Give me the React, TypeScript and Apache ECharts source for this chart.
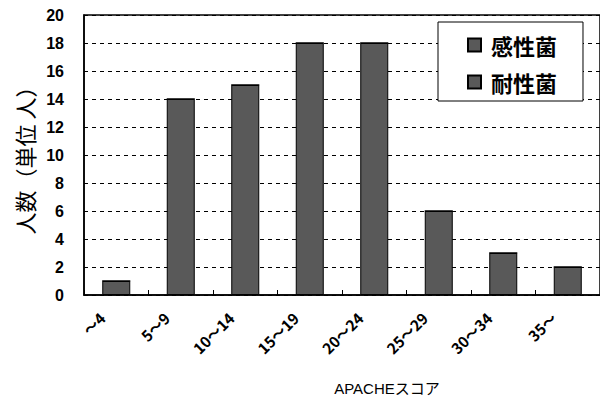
import React, { useEffect, useRef } from "react";
import * as echarts from "echarts";

// APACHE score bands
const categories = ["〜4", "5〜9", "10〜14", "15〜19", "20〜24", "25〜29", "30〜34", "35〜"];
// patient counts per band
const sensitiveCounts = [1, 14, 15, 18, 18, 6, 3, 2];
const resistantCounts = [0, 0, 0, 0, 0, 0, 0, 0];
const seriesNames = ["感性菌", "耐性菌"];

const BAR_FILL = "#595959";

export default function App() {
  const ref = useRef<HTMLDivElement>(null);

  useEffect(() => {
    if (!ref.current) return;
    const chart = echarts.init(ref.current, undefined, { renderer: "svg" });
    const barStyle = { color: BAR_FILL, borderColor: "#000", borderWidth: 1 };
    chart.setOption({
      animation: false,
      backgroundColor: "#fff",
      grid: {
        left: 84,
        top: 15,
        width: 524,
        height: 280,
        show: true,
        borderColor: "#000",
        borderWidth: 1.5,
        backgroundColor: "transparent",
      },
      legend: {
        left: 438,
        top: 22,
        orient: "vertical",
        backgroundColor: "#fff",
        borderColor: "#000",
        borderWidth: 1,
        padding: [12, 26, 8, 29],
        itemGap: 15,
        itemWidth: 13,
        itemHeight: 13,
        icon: "rect",
        formatter: (n: string) => " " + n,
        textStyle: {
          fontSize: 22,
          fontWeight: "bold",
          color: "#000",
          fontFamily: "Noto Sans CJK JP",
        },
        data: seriesNames,
      },
      xAxis: {
        type: "category",
        data: categories,
        boundaryGap: true,
        axisLine: { show: true, lineStyle: { color: "#000", width: 1.5 } },
        axisTick: { show: true, inside: true, length: 5, lineStyle: { color: "#000" } },
        axisLabel: {
          rotate: 45,
          interval: 0,
          margin: 6,
          padding: [0, 20, 0, 0],
          fontSize: 15,
          fontWeight: "bold",
          color: "#000",
          fontFamily: "Noto Sans CJK JP",
        },
        name: "APACHEスコア",
        nameLocation: "middle",
        nameGap: 86,
        nameTextStyle: {
          fontSize: 15,
          color: "#000",
          fontFamily: "Liberation Sans, Noto Sans CJK JP",
          padding: [0, 0, 0, 90],
        },
      },
      yAxis: {
        type: "value",
        min: 0,
        max: 20,
        interval: 2,
        axisLine: { show: true, lineStyle: { color: "#000", width: 1.5 } },
        axisTick: { show: false },
        axisLabel: {
          margin: 20,
          fontSize: 16,
          fontWeight: "bold",
          color: "#000",
          fontFamily: "Liberation Sans",
        },
        splitLine: {
          show: true,
          lineStyle: { color: "#000", type: [4, 4], width: 1.2 },
        },
        name: "人数（単位 人）",
        nameLocation: "middle",
        nameRotate: 90,
        nameGap: 47,
        nameTextStyle: {
          fontSize: 22,
          color: "#000",
          fontFamily: "Noto Sans CJK JP",
        },
      },
      series: [
        {
          name: seriesNames[0],
          type: "bar",
          stack: "total",
          barWidth: 28,
          data: sensitiveCounts,
          itemStyle: barStyle,
        },
        {
          name: seriesNames[1],
          type: "bar",
          stack: "total",
          barWidth: 28,
          data: resistantCounts,
          itemStyle: barStyle,
        },
      ],
    });
    return () => chart.dispose();
  }, []);

  return (
    <div
      ref={ref}
      style={{ position: "absolute", left: 0, top: 0, width: 600, height: 402 }}
    />
  );
}
